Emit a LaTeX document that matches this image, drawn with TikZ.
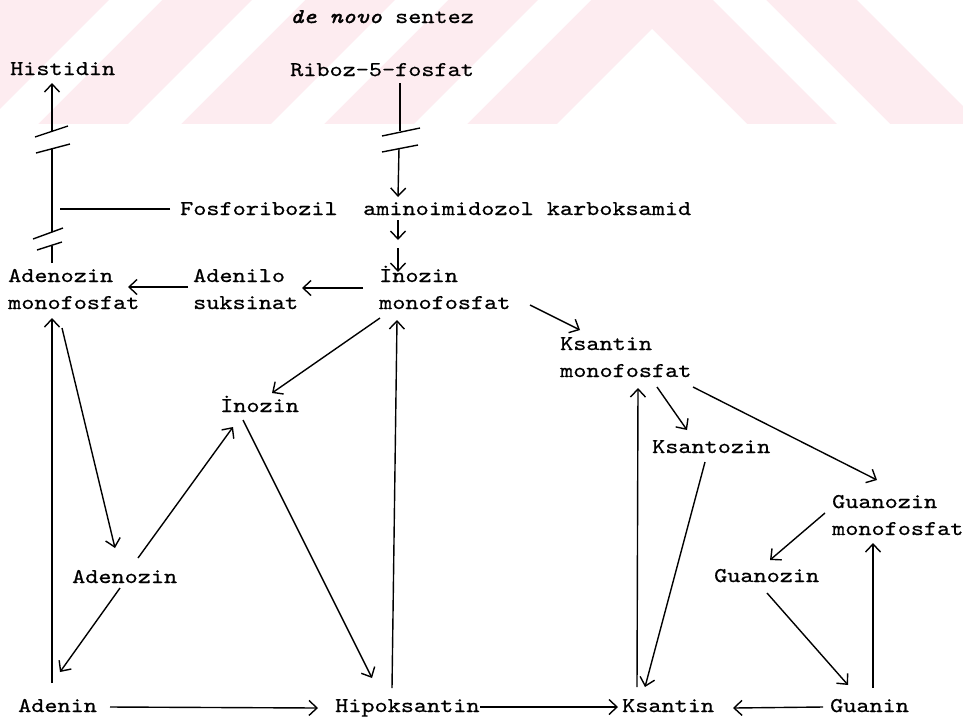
\documentclass[tikz,border=0pt]{standalone}
\usepackage{fontspec}
\setmonofont{lmmono10-regular.otf}[FakeStretch=1.19,FakeBold=0.6,ItalicFont=lmmono10-italic.otf,ItalicFeatures={FakeBold=1.5}]
\usetikzlibrary{arrows.meta}
\definecolor{wmpink}{RGB}{253,236,240}
\newcommand\duo[2]{{\baselineskip=27pt\vtop{\hbox{#1}\hbox{#2}}}}
\begin{document}
\begin{tikzpicture}[x=1pt,y=-1pt,
  lbl/.style={anchor=base west,inner sep=0pt,font=\ttfamily\fontsize{21}{25}\selectfont},
  arr/.style={line width=1.4pt,-{Straight Barb[length=8pt,width=15pt,line width=1.4pt]}},
  ln/.style={line width=1.4pt},
  brk/.style={line width=1.4pt}]
\useasboundingbox (0,0) rectangle (963,721);
\fill[white] (0,0) rectangle (963,721);
% watermark stripes
\begin{scope}
\clip (0,0) rectangle (963,124);
\fill[wmpink] (0,0) rectangle (963,124);
\fill[white] (-15,124) -- (38,124) -- (162,0) -- (109,0) -- cycle;
\fill[white] (128,124) -- (181,124) -- (305,0) -- (252,0) -- cycle;
\fill[white] (271,124) -- (324,124) -- (448,0) -- (395,0) -- cycle;
\fill[white] (414,124) -- (467,124) -- (591,0) -- (538,0) -- cycle;
\fill[white] (557,124) -- (652,29) -- (747,124) -- cycle;
\fill[white] (837,124) -- (890,124) -- (766,0) -- (713,0) -- cycle;
\fill[white] (857,0) -- (1000,0) -- (1000,143) -- cycle;
\end{scope}
% nodes
\node[lbl] (denovo) at (290,23) {\textit{de novo} sentez};
\node[lbl] (his) at (10,75) {Histidin};
\node[lbl] (rib) at (290,76) {Riboz-5-fosfat};
\node[lbl] (fos) at (180,215) {Fosforibozil};
\node[lbl] (amino) at (363,215) {aminoimidozol karboksamid};
\node[lbl] (amp) at (8,282) {\duo{Adenozin}{monofosfat}};
\node[lbl] (ads) at (193,282) {\duo{Adenilo}{suksinat}};
\node[lbl] (imp) at (379,282) {\duo{İnozin}{monofosfat}};
\node[lbl] (xmp) at (560,350) {\duo{Ksantin}{monofosfat}};
\node[lbl] (xao) at (652,453) {Ksantozin};
\node[lbl] (gmp) at (832,508) {\duo{Guanozin}{monofosfat}};
\node[lbl] (guo) at (714,582) {Guanozin};
\node[lbl] (ino) at (220,412) {İnozin};
\node[lbl] (ado) at (72,583) {Adenozin};
\node[lbl] (ade) at (18,712) {Adenin};
\node[lbl] (hx) at (335,712) {Hipoksantin};
\node[lbl] (xan) at (622,712) {Ksantin};
\node[lbl] (gua) at (830,712) {Guanin};
% Riboz -> aminoimidozol (broken)
\coordinate (rA) at (400,131);
\coordinate (rB) at (399,148);
\draw[ln] ([shift={(110,7)}]rib.base west) -- (rA);
\draw[brk] (382,136) -- (420,128);
\draw[brk] (382,152) -- (418,145);
\draw[arr] (rB) -- ([shift={(35,-18)}]amino.base west);
% aminoimidozol -> IMP (two steps)
\draw[arr] ([shift={(35,5)}]amino.base west) -- ([shift={(35,25)}]amino.base west);
\draw[arr] ([shift={(35,33)}]amino.base west) -- ([shift={(19,-10)}]imp.base west);
% AMP -> Histidin (broken)
\coordinate (hA) at (52,246);
\coordinate (hB) at (52,232);
\coordinate (hC) at (52,149);
\coordinate (hD) at (52,131);
\draw[ln] ([shift={(44,-19)}]amp.base west) -- (hA);
\draw[ln] (hB) -- (hC);
\draw[arr] (hD) -- ([shift={(42,8)}]his.base west);
\draw[brk] (33,239) -- (63,228);
\draw[brk] (37,250) -- (62,242);
\draw[brk] (35,137) -- (68,126);
\draw[brk] (36,153) -- (70,144);
\draw[ln] ([shift={(-10,-6)}]fos.base west) -- ([shift={(-120,-6)}]fos.base west);
% IMP -> Adenilo suksinat -> AMP
\draw[arr] ([shift={(-16,6)}]imp.base west) -- ([shift={(109,6)}]ads.base west);
\draw[arr] ([shift={(-5,5)}]ads.base west) -- ([shift={(120,5)}]amp.base west);
% adenine branch
\draw[arr] ([shift={(34,-29)}]ade.base west) -- ([shift={(44,36)}]amp.base west);
\draw[arr] ([shift={(54,46)}]amp.base west) -- ([shift={(43,-35)}]ado.base west);
\draw[arr] ([shift={(48,5)}]ado.base west) -- ([shift={(42,-40)}]ade.base west);
\draw[arr] ([shift={(66,-25)}]ado.base west) -- ([shift={(13,15)}]ino.base west);
\draw[arr] ([shift={(23,8)}]ino.base west) -- ([shift={(37,-34)}]hx.base west);
\draw[arr] ([shift={(57,-24)}]hx.base west) -- ([shift={(18,38)}]imp.base west);
\draw[arr] ([shift={(1,36)}]imp.base west) -- ([shift={(52,-19)}]ino.base west);
\draw[arr] ([shift={(151,23)}]imp.base west) -- ([shift={(20,-20)}]xmp.base west);
% bottom row
\draw[arr] ([shift={(92,-5)}]ade.base west) -- ([shift={(-17,-4)}]hx.base west);
\draw[arr] ([shift={(145,-5)}]hx.base west) -- ([shift={(-4,-5)}]xan.base west);
\draw[arr] ([shift={(-7,-5)}]gua.base west) -- ([shift={(111,-4)}]xan.base west);
% xanthine / guanine branch
\draw[arr] ([shift={(15,-25)}]xan.base west) -- ([shift={(78,38)}]xmp.base west);
\draw[arr] ([shift={(97,37)}]xmp.base west) -- ([shift={(35,-23)}]xao.base west);
\draw[arr] ([shift={(53,9)}]xao.base west) -- ([shift={(23,-25)}]xan.base west);
\draw[arr] ([shift={(133,37)}]xmp.base west) -- ([shift={(45,-28)}]gmp.base west);
\draw[arr] ([shift={(-7,5)}]gmp.base west) -- ([shift={(56,-22)}]guo.base west);
\draw[arr] ([shift={(53,11)}]guo.base west) -- ([shift={(18,-27)}]gua.base west);
\draw[arr] ([shift={(43,-24)}]gua.base west) -- ([shift={(41,35)}]gmp.base west);
\end{tikzpicture}
\end{document}
